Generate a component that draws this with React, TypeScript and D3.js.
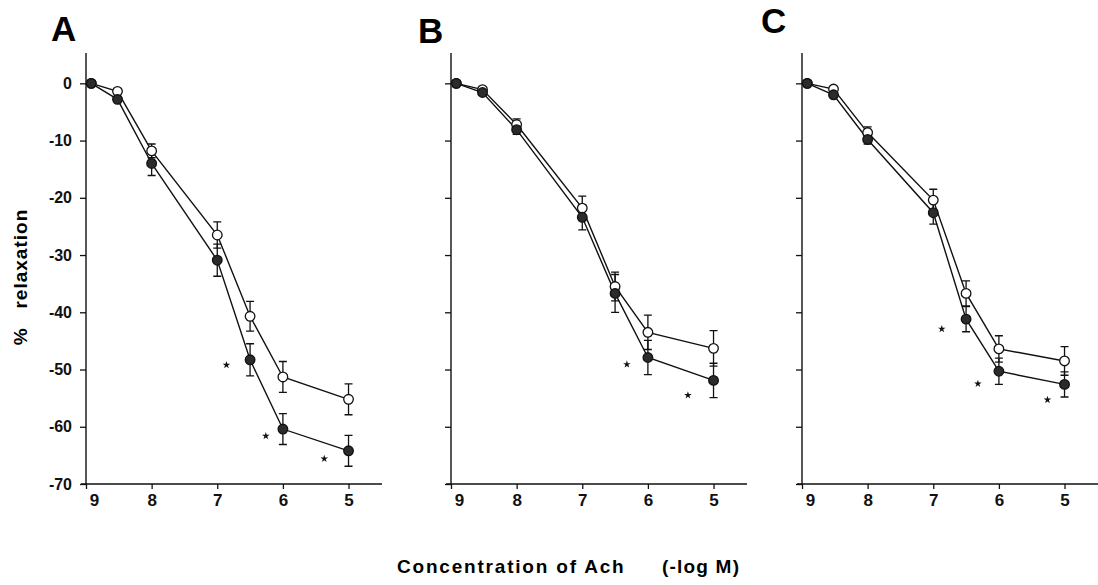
import React, { useEffect, useRef } from 'react';
import * as d3 from 'd3';

// -log M of each Ach dose
const conc = [8.92, 8.52, 8, 7, 6.5, 6, 5];
const xTicks = [9, 8, 7, 6, 5];
const yTicks = [0, -10, -20, -30, -40, -50, -60, -70];

// panel A
const openA = [0, -1.4, -11.8, -26.5, -40.7, -51.3, -55.2];
const openErrA = [0, 0, 1.2, 2.3, 2.6, 2.7, 2.7];
const filledA = [0, -2.8, -14.0, -30.9, -48.3, -60.4, -64.2];
const filledErrA = [0, 0, 2.1, 2.8, 2.8, 2.7, 2.7];
const starsA = [[6.86, -49.2], [6.26, -61.6], [5.37, -65.6]];

// panel B
const openB = [0, -1.1, -7.2, -21.8, -35.5, -43.5, -46.3];
const openErrB = [0, 0, 1.0, 2.1, 2.5, 3.0, 3.1];
const filledB = [0, -1.6, -8.1, -23.4, -36.7, -47.9, -51.9];
const filledErrB = [0, 0, 0.8, 2.2, 3.3, 3.0, 3.0];
const starsB = [[6.32, -49.1], [5.39, -54.5]];

// panel C
const openC = [0, -1.0, -8.6, -20.4, -36.7, -46.4, -48.5];
const openErrC = [0, 0, 1.0, 1.9, 2.2, 2.3, 2.5];
const filledC = [0, -2.0, -9.8, -22.6, -41.2, -50.3, -52.6];
const filledErrC = [0, 0, 0.8, 2.0, 2.2, 2.3, 2.2];
const starsC = [[6.87, -42.9], [6.32, -52.5], [5.26, -55.3]];

const FONT = '"Liberation Sans", Arial, Helvetica, sans-serif';

const App = () => {
  const svgRef = useRef<SVGSVGElement>(null);

  useEffect(() => {
    const svg = d3.select(svgRef.current);
    svg.selectAll('*').remove();

    const panels = [
      { name: 'A', x0: 86, lx: 51, ly: 41, labels: true, open: openA, openErr: openErrA, filled: filledA, filledErr: filledErrA, stars: starsA },
      { name: 'B', x0: 451, lx: 418, ly: 43, labels: false, open: openB, openErr: openErrB, filled: filledB, filledErr: filledErrB, stars: starsB },
      { name: 'C', x0: 802, lx: 761, ly: 33, labels: false, open: openC, openErr: openErrC, filled: filledC, filledErr: filledErrC, stars: starsC },
    ];

    const y = d3.scaleLinear().domain([-70, 5.3]).range([484, 53]);

    panels.forEach(p => {
      const x = d3.scaleLinear().domain([9, 4.49]).range([p.x0, p.x0 + 296]);
      const g = svg.append('g');

      g.append('text')
        .attr('x', p.lx).attr('y', p.ly)
        .attr('font-family', FONT).attr('font-weight', 'bold')
        .attr('font-size', 35)
        .text(p.name);

      // y axis
      const yAxis = d3.axisLeft(y).tickValues(yTicks).tickSize(6).tickPadding(8)
        .tickFormat(p.labels ? (d => String(d)) : () => '');
      const ya = g.append('g').attr('transform', `translate(${p.x0},0)`).call(yAxis);
      ya.select('.domain').attr('d', `M0,${y(-70)}V53`).attr('stroke', '#111').attr('stroke-width', 1.4);
      ya.selectAll('.tick line').attr('stroke', '#111').attr('stroke-width', 1.3);
      ya.selectAll('text')
        .attr('font-family', FONT).attr('font-weight', 'bold')
        .attr('font-size', 16).attr('fill', '#111');

      // x axis
      const xAxis = d3.axisBottom(x).tickValues(xTicks).tickSize(5).tickPadding(5)
        .tickFormat(d => String(d));
      const xa = g.append('g').attr('transform', `translate(0,${y(-70)})`).call(xAxis);
      xa.select('.domain').attr('d', `M${p.x0 - 5},0H${p.x0 + 296}`).attr('stroke', '#111').attr('stroke-width', 1.6);
      xa.selectAll('.tick line').attr('stroke', '#111').attr('stroke-width', 1.3);
      xa.selectAll('text')
        .attr('font-family', FONT).attr('font-weight', 'bold')
        .attr('font-size', 17).attr('fill', '#111');
      xa.selectAll('.tick').filter(d => d === 9).select('text').attr('dx', 8);

      const series = [
        { vals: p.open, err: p.openErr, fill: '#fff' },
        { vals: p.filled, err: p.filledErr, fill: '#2b2b2b' },
      ];

      const line = d3.line<number>().x((_, i) => x(conc[i])).y(d => y(d));
      series.forEach(s => {
        g.append('path').attr('d', line(s.vals)).attr('fill', 'none')
          .attr('stroke', '#111').attr('stroke-width', 1.4);
      });

      series.forEach(s => {
        s.vals.forEach((v, i) => {
          const e = s.err[i];
          if (!e) return;
          const cx = x(conc[i]);
          const path = d3.path();
          path.moveTo(cx, y(v + e)); path.lineTo(cx, y(v - e));
          path.moveTo(cx - 4, y(v + e)); path.lineTo(cx + 4, y(v + e));
          path.moveTo(cx - 4, y(v - e)); path.lineTo(cx + 4, y(v - e));
          g.append('path').attr('d', path.toString()).attr('stroke', '#111')
            .attr('stroke-width', 1.3).attr('fill', 'none');
        });
      });

      series.forEach(s => {
        g.selectAll(null).data(s.vals).enter().append('circle')
          .attr('cx', (_, i) => x(conc[i]))
          .attr('cy', d => y(d))
          .attr('r', 4.8)
          .attr('fill', s.fill)
          .attr('stroke', '#111')
          .attr('stroke-width', 1.3);
      });

      const star = d3.symbol().type(d3.symbolStar).size(18);
      g.selectAll(null).data(p.stars).enter().append('path')
        .attr('d', star)
        .attr('transform', d => `translate(${x(d[0])},${y(d[1])})`)
        .attr('fill', '#111');
    });

    svg.append('text')
      .attr('transform', 'translate(27,277) rotate(-90)')
      .attr('text-anchor', 'middle')
      .attr('font-family', FONT).attr('font-weight', 'bold')
      .attr('font-size', 19).attr('letter-spacing', 1)
      .style('white-space', 'pre')
      .text('%   relaxation');

    svg.append('text')
      .attr('x', 397).attr('y', 573)
      .attr('font-family', FONT).attr('font-weight', 'bold')
      .attr('font-size', 19).attr('letter-spacing', 1.8)
      .text('Concentration of Ach');

    svg.append('text')
      .attr('x', 662).attr('y', 573)
      .attr('font-family', FONT).attr('font-weight', 'bold')
      .attr('font-size', 19).attr('letter-spacing', 1.2)
      .text('(-log M)');
  }, []);

  return (
    <svg ref={svgRef} width={1098} height={585}
      style={{ position: 'absolute', left: 0, top: 0, background: '#fff' }}></svg>
  );
};

export default App;
